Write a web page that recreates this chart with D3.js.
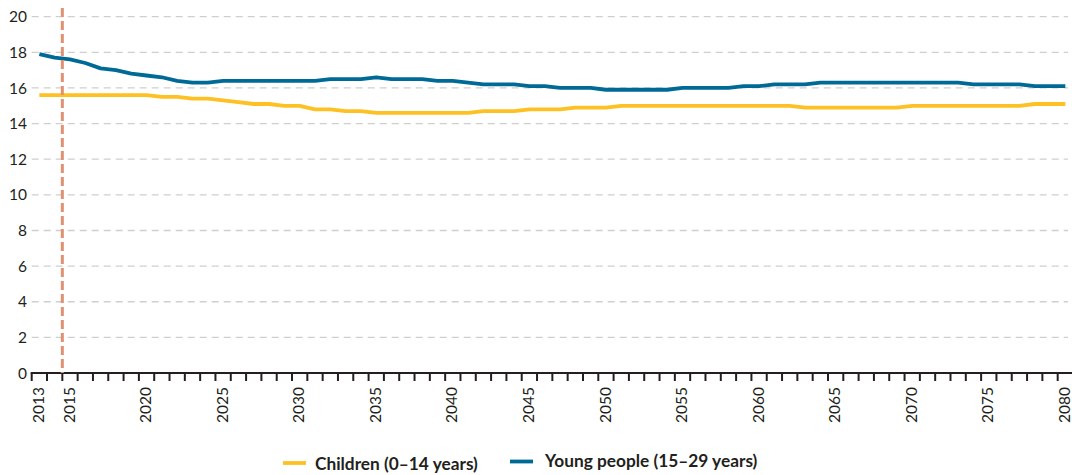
<!DOCTYPE html>
<html>
<head>
<meta charset="utf-8">
<script src="https://cdn.jsdelivr.net/npm/d3@7"></script>
<style>
  html, body { margin: 0; padding: 0; background: #fff; }
  svg { display: block; font-family: Lato, "Noto Sans", sans-serif; }
</style>
</head>
<body>
<svg id="chart" width="1072" height="475"></svg>
<script>
const years = d3.range(2013, 2081);
const labelYears = [2013, 2015, 2020, 2025, 2030, 2035, 2040, 2045, 2050, 2055, 2060, 2065, 2070, 2075, 2080];
const yTicks = [0, 2, 4, 6, 8, 10, 12, 14, 16, 18, 20];
const markerYear = 2015;
const seriesNames = ["Children (0\u201314 years)", "Young people (15\u201329 years)"];

// Children (0-14 years), 2013..2080
const children = [
  15.6, 15.6, 15.6, 15.6, 15.6, 15.6, 15.6, 15.6, 15.5, 15.5,
  15.4, 15.4, 15.3, 15.2, 15.1, 15.1, 15.0, 15.0, 14.8, 14.8,
  14.7, 14.7, 14.6, 14.6, 14.6, 14.6, 14.6, 14.6, 14.6, 14.7,
  14.7, 14.7, 14.8, 14.8, 14.8, 14.9, 14.9, 14.9, 15.0, 15.0,
  15.0, 15.0, 15.0, 15.0, 15.0, 15.0, 15.0, 15.0, 15.0, 15.0,
  14.9, 14.9, 14.9, 14.9, 14.9, 14.9, 14.9, 15.0, 15.0, 15.0,
  15.0, 15.0, 15.0, 15.0, 15.0, 15.1, 15.1, 15.1
];
// Young people (15-29 years), 2013..2080
const youngPeople = [
  17.9, 17.7, 17.6, 17.4, 17.1, 17.0, 16.8, 16.7, 16.6, 16.4,
  16.3, 16.3, 16.4, 16.4, 16.4, 16.4, 16.4, 16.4, 16.4, 16.5,
  16.5, 16.5, 16.6, 16.5, 16.5, 16.5, 16.4, 16.4, 16.3, 16.2,
  16.2, 16.2, 16.1, 16.1, 16.0, 16.0, 16.0, 15.9, 15.9, 15.9,
  15.9, 15.9, 16.0, 16.0, 16.0, 16.0, 16.1, 16.1, 16.2, 16.2,
  16.2, 16.3, 16.3, 16.3, 16.3, 16.3, 16.3, 16.3, 16.3, 16.3,
  16.3, 16.2, 16.2, 16.2, 16.2, 16.1, 16.1, 16.1
];

const colors = ["#fdc123", "#006a97"];
const textColor = "#231f20";

const svg = d3.select("#chart");
const mLeft = 31.7, mRight = 1073, mTop = 16.7, mBottom = 373;

const x = d3.scaleBand().domain(years).range([mLeft, mRight]).padding(0);
const y = d3.scaleLinear().domain([0, 20]).range([mBottom, mTop]);
const cx = d => x(d) + x.bandwidth() / 2;

// gridlines
svg.append("g").selectAll("line")
  .data(yTicks.filter(v => v > 0))
  .join("line")
  .attr("x1", mLeft).attr("x2", 1068)
  .attr("y1", d => y(d)).attr("y2", d => y(d))
  .attr("stroke", "#cfcfcf").attr("stroke-width", 1.3)
  .attr("stroke-dasharray", "7,5");

// y labels
svg.append("g").selectAll("text")
  .data(yTicks)
  .join("text")
  .attr("x", 27).attr("y", d => y(d)).attr("dy", "0.36em")
  .attr("text-anchor", "end")
  .attr("font-size", 15.5).attr("fill", textColor)
  .text(d => d);

// x axis line
svg.append("line")
  .attr("x1", mLeft - 1).attr("x2", 1072)
  .attr("y1", mBottom).attr("y2", mBottom)
  .attr("stroke", textColor).attr("stroke-width", 2);

// ticks at band boundaries
const boundaries = years.map(d => x(d)).concat([mRight]);
svg.append("g").selectAll("line")
  .data(boundaries)
  .join("line")
  .attr("x1", d => d).attr("x2", d => d)
  .attr("y1", mBottom).attr("y2", mBottom + 8)
  .attr("stroke", textColor).attr("stroke-width", 2);

// x labels
svg.append("g").selectAll("text")
  .data(labelYears)
  .join("text")
  .attr("transform", d => `translate(${cx(d) - 0.8},${mBottom + 14}) rotate(-90)`)
  .attr("dy", "0.35em")
  .attr("text-anchor", "end")
  .attr("font-size", 15.5).attr("fill", textColor)
  .text(d => d);

// lines
const line = d3.line().x((d, i) => cx(years[i])).y(d => y(d));
[children, youngPeople].forEach((s, i) => {
  svg.append("path")
    .datum(s)
    .attr("d", line)
    .attr("fill", "none")
    .attr("stroke", colors[i])
    .attr("stroke-width", 3.8)
    .attr("stroke-linejoin", "round");
});

// marker line at 2015
svg.append("line")
  .attr("x1", x(markerYear)).attr("x2", x(markerYear))
  .attr("y1", 8).attr("y2", mBottom)
  .attr("stroke", "#df9272").attr("stroke-width", 3)
  .attr("stroke-dasharray", "9,4");

// legend
const legendItems = [
  { x: 283, y: 463, tx: 315, ty: 469.5 },
  { x: 510, y: 461.5, tx: 545, ty: 467 }
];
legendItems.forEach((p, i) => {
  svg.append("line")
    .attr("x1", p.x).attr("x2", p.x + 23)
    .attr("y1", p.y).attr("y2", p.y)
    .attr("stroke", colors[i]).attr("stroke-width", 3.8);
  svg.append("text")
    .attr("x", p.tx).attr("y", p.ty)
    .attr("font-size", 17.3).attr("font-weight", "bold")
    .attr("fill", textColor)
    .text(seriesNames[i]);
});
</script>
</body>
</html>
